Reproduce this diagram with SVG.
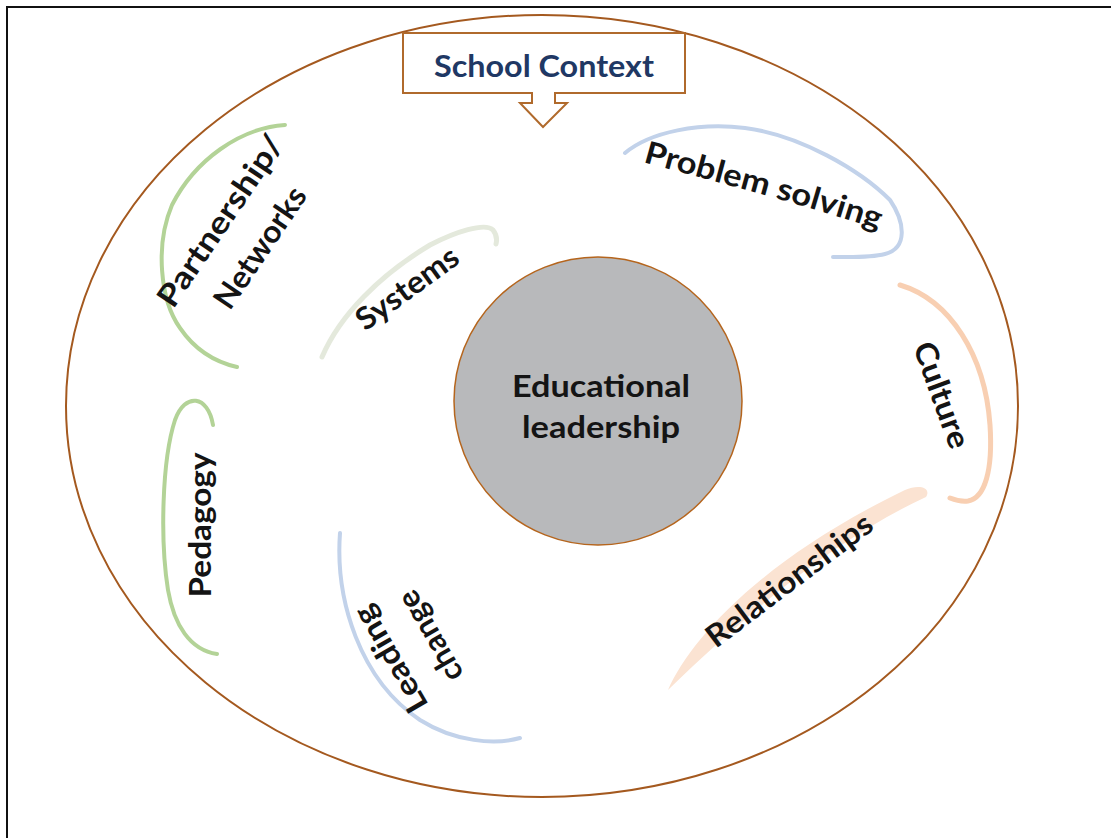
<svg xmlns="http://www.w3.org/2000/svg" width="1111" height="838" viewBox="0 0 1111 838">
  <defs>
    <style>
      .lbl { font-family: Lato, "Liberation Sans", sans-serif; font-weight: bold; font-size: 31px; fill: #141414; }
      .arc { fill: none; stroke-linecap: round; }
      .green { stroke: #b3d397; stroke-width: 4; }
      .blue { stroke: #c2d2ea; stroke-width: 4; }
      .peach { stroke: #f8cfb2; stroke-width: 5; }
      .pale { stroke: #e4e9dc; stroke-width: 5; }
    </style>
    <path id="ps-base" d="M643,162 C700,178 790,200 886,232"/>
  </defs>

  <rect width="1111" height="838" fill="#ffffff"/>
  <!-- outer frame -->
  <path d="M7,838 V7 H1111" fill="none" stroke="#111111" stroke-width="2"/>

  <!-- school context boundary -->
  <g id="school-context">
    <ellipse cx="542" cy="406" rx="476" ry="391" fill="none" stroke="#a4591f" stroke-width="2"/>
    <path d="M403,33 H685 V93 H555 V103 H567 L543,127 L520,103 H532 V93 H403 Z" fill="#ffffff" stroke="#b06a2c" stroke-width="2"/>
    <text x="544" y="77" text-anchor="middle" textLength="220" lengthAdjust="spacingAndGlyphs" style="font-family: Lato, 'Liberation Sans', sans-serif; font-weight: bold; font-size: 31px; fill: #1f3864;">School Context</text>
  </g>

  <!-- centre -->
  <g id="educational-leadership">
    <circle cx="598" cy="401" r="144" fill="#b8b9bb" stroke="#b5651d" stroke-width="1.5"/>
    <text class="lbl" x="601" y="397" text-anchor="middle" textLength="178" lengthAdjust="spacingAndGlyphs">Educational</text>
    <text class="lbl" x="601" y="438" text-anchor="middle" textLength="158" lengthAdjust="spacingAndGlyphs">leadership</text>
  </g>

  <g id="connectors"/>

  <g id="problem-solving">
    <path class="arc blue" d="M625,153 C650,132 700,122 745,128 C800,135 860,170 890,200 C905,222 908,248 885,254 C870,258 850,257 833,257"/>
    <text class="lbl"><textPath href="#ps-base" textLength="245" lengthAdjust="spacingAndGlyphs">Problem solving</textPath></text>
  </g>

  <g id="culture">
    <path class="arc peach" d="M900,285 C950,300 985,355 990,425 C993,470 985,498 968,501 C960,502 955,500 950,498"/>
    <g transform="translate(942,395) rotate(70)">
      <text class="lbl" x="0" y="11" text-anchor="middle" textLength="111" lengthAdjust="spacingAndGlyphs">Culture</text>
    </g>
  </g>

  <g id="relationships">
    <path d="M668,690 C690,640 760,560 905,490 C918,484 932,487 926,497 C850,532 765,595 668,690 Z" fill="#fbe3d2"/>
    <g transform="translate(789,580) rotate(-37)">
      <text class="lbl" x="0" y="11" text-anchor="middle" textLength="200" lengthAdjust="spacingAndGlyphs">Relationships</text>
    </g>
  </g>

  <g id="leading-change">
    <path class="arc blue" d="M340,533 C335,600 360,680 420,720 C455,742 495,745 520,738"/>
    <g transform="translate(410,648) rotate(-120)">
      <text class="lbl" x="0" y="-12" text-anchor="middle" textLength="118" lengthAdjust="spacingAndGlyphs">Leading</text>
      <text class="lbl" x="0" y="34" text-anchor="middle" textLength="100" lengthAdjust="spacingAndGlyphs">change</text>
    </g>
  </g>

  <g id="pedagogy">
    <path class="arc green" d="M213,425 C208,395 185,392 175,420 C162,460 160,540 168,590 C174,625 190,650 217,654"/>
    <g transform="translate(200,525) rotate(-90)">
      <text class="lbl" x="0" y="11" text-anchor="middle" textLength="145" lengthAdjust="spacingAndGlyphs">Pedagogy</text>
    </g>
  </g>

  <g id="partnership-networks">
    <path class="arc green" d="M285,125 C240,128 195,160 172,205 C155,245 160,300 180,328 C195,350 215,362 237,367"/>
    <g transform="translate(240,234) rotate(-56)">
      <text class="lbl" x="0" y="-13" text-anchor="middle" textLength="200" lengthAdjust="spacingAndGlyphs">Partnership/</text>
      <text class="lbl" x="0" y="35" text-anchor="middle" textLength="140" lengthAdjust="spacingAndGlyphs">Networks</text>
    </g>
  </g>

  <g id="systems">
    <path class="arc pale" d="M322,357 C340,315 380,275 430,245 C455,232 485,222 493,230 C497,235 497,240 496,244"/>
    <g transform="translate(407,288) rotate(-36)">
      <text class="lbl" x="0" y="11" text-anchor="middle" textLength="119" lengthAdjust="spacingAndGlyphs">Systems</text>
    </g>
  </g>
</svg>
